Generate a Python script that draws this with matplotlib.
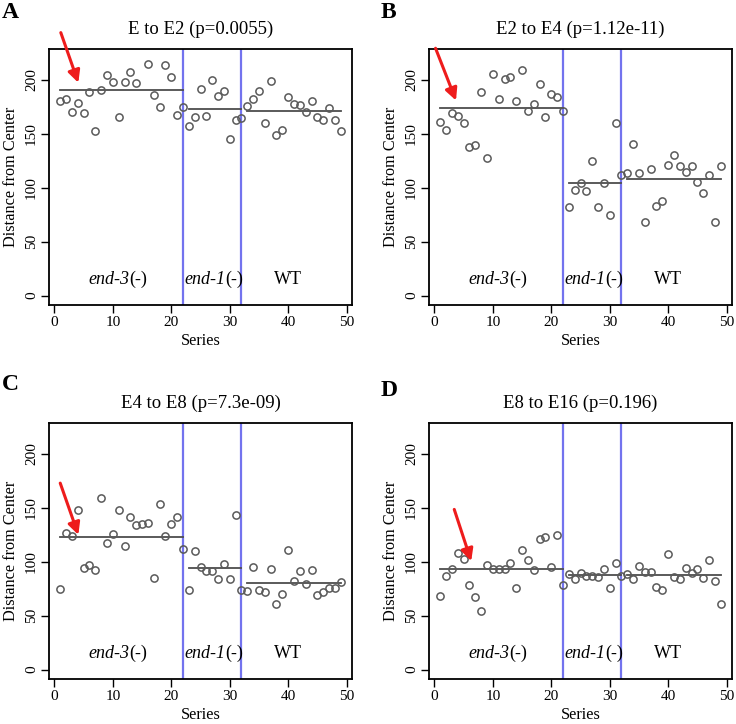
import numpy as np
import matplotlib
matplotlib.use("Agg")
import matplotlib.pyplot as plt
from matplotlib.offsetbox import TextArea, HPacker, AnnotationBbox

plt.rcParams["font.family"] = ["Liberation Serif", "DejaVu Serif"]

# ---------------------------------------------------------------------------
# Data -- series 1..49, nan = point not shown
# ---------------------------------------------------------------------------

nan = np.nan
series = np.arange(1, 50)

group_names = ["end-3", "end-1", "WT"]
group_start = [1, 23, 33]
group_end = [22, 32, 49]
dividers = [22, 32]

titles = ["E to E2 (p=0.0055)", "E2 to E4 (p=1.12e-11)",
          "E4 to E8 (p=7.3e-09)", "E8 to E16 (p=0.196)"]
letters = ["A", "B", "C", "D"]

a_vals = [181, 182, 170, 179, 169, 189, 153, 191, 205, 198, 166, 198, 207, 197, nan,
          215, 186, 175, 214, 203, 168, 175,
          157, 166, 192, 167, 200, 185, 190, 145, 163, 165,
          176, 182, 190, 160, 199, 149, 154, 184, 178, 177, 170, 181, 166, 163, 174,
          163, 153]
a_means = [190.6, 172.8, 171.0]

b_vals = [161, 154, 169, 167, 160, 138, 140, 189, 128, 206, 182, 201, 203, 181, 209,
          171, 178, 196, 166, 187, 184, 171,
          82, 98, 104, 97, 125, 82, 104, 75, 160, 112,
          114, 141, 114, 68, 117, 83, 88, 121, 130, 120, 115, 120, 105, 95, 112, 68, 120]
b_means = [174.0, 104.0, 108.0]

c_vals = [75, 127, 124, 148, 94, 97, 92, 159, 117, 126, 148, 115, 142, 134, 135,
          136, 85, 154, 124, 135, 142, 112,
          74, 110, 95, 91, 91, 84, 98, 84, 143, 74,
          73, 95, 74, 72, 93, 61, 70, 111, 82, 91, 79, 92, 69, 72, 76, 76, 81]
c_means = [122.7, 93.8, 80.0]

d_vals = [68, 87, 93.5, 108, 103, 78.5, 67, 54, 97, 93, 93.5, 93, 98.5, 75.5, 111,
          102, 92, 121, 123, 95.5, 125, 78.5,
          89, 84, 89.5, 87, 86.5, 85.5, 93.5, 75.5, 98.5, 87,
          89, 84, 96.5, 90.5, 90.5, 76.5, 74, 107, 86, 84, 94.5, 89.5, 93.5, 85, 102,
          82, 61]
d_means = [93.5, 88.0, 88.0]

# red arrows pointing at the highlighted embryo (data coords)
arrow_from = [(1.1, 244), (0.2, 229.5), (1.0, 173), (3.4, 148.6)]
arrow_to = [(4.1, 197.5), (3.7, 181), (4.1, 125), (6.3, 100.6)]

all_vals = [a_vals, b_vals, c_vals, d_vals]
all_means = [a_means, b_means, c_means, d_means]

# ---------------------------------------------------------------------------
# Layout (pixels)
# ---------------------------------------------------------------------------

W, H = 736, 724
box_w, box_h = 303, 256
box_origin = [(49, 49), (429, 49), (49, 423), (429, 423)]
letter_pos = [(2, 12), (381, 12), (2, 385), (381, 391)]
label_x = [10.8, 27.3, 40.0]

fig = plt.figure(figsize=(W / 100, H / 100), dpi=100)

for i in range(4):
    left, top = box_origin[i]
    ax = fig.add_axes([left / W, 1 - (top + box_h) / H, box_w / W, box_h / H])

    for xv in dividers:
        ax.axvline(xv, color="#7373ee", lw=1.6, zorder=1)

    ax.plot(series, all_vals[i], "o", ms=5.2, mfc="none", mec="#5a5a5a",
            mew=1.1, zorder=3)

    for g in range(3):
        ax.plot([group_start[g], group_end[g]], [all_means[i][g]] * 2,
                color="#4d4d4d", lw=1.3, zorder=2)

    # group labels: italic gene name + roman "(-)"
    for g in range(3):
        if group_names[g] == "WT":
            parts = [TextArea("WT", textprops=dict(size=13))]
        else:
            parts = [TextArea(group_names[g], textprops=dict(size=13, style="italic")),
                     TextArea("(-)", textprops=dict(size=13))]
        pack = HPacker(children=parts, pad=0, sep=0, align="baseline")
        ab = AnnotationBbox(pack, (label_x[g], 15), frameon=False,
                            box_alignment=(0.5, 0.5), pad=0)
        ax.add_artist(ab)

    ax.annotate("", xy=arrow_to[i], xytext=arrow_from[i],
                arrowprops=dict(arrowstyle="-|>,head_length=0.6,head_width=0.3",
                                color="#ee1c1c", lw=2.2, mutation_scale=12,
                                shrinkA=0, shrinkB=0),
                annotation_clip=False, zorder=5)

    ax.set_xlim(-0.92, 50.92)
    ax.set_ylim(-8.8, 228.8)
    ax.set_xticks([0, 10, 20, 30, 40, 50])
    ax.set_yticks([0, 50, 100, 150, 200])
    ax.tick_params(length=6, width=1, labelsize=11)
    ax.tick_params(axis="x", pad=2)
    ax.tick_params(axis="y", pad=2)
    plt.setp(ax.get_yticklabels(), rotation=90, va="center", ha="right")
    for s in ax.spines.values():
        s.set_linewidth(1.3)

    ax.set_title(titles[i], fontsize=13.5, pad=11)
    ax.set_xlabel("Series", fontsize=11.7)
    ax.set_ylabel("Distance from Center", fontsize=11.7)
    ax.xaxis.set_label_coords(0.5, -36 / box_h)
    ax.xaxis.label.set_va("center")
    ax.yaxis.set_label_coords(-38 / box_w, 0.5)
    ax.yaxis.label.set_va("center")

    lx, ly = letter_pos[i]
    fig.text(lx / W, 1 - ly / H, letters[i], fontsize=17, fontweight="bold",
             ha="left", va="center")

fig.savefig("out.png", dpi=100)
